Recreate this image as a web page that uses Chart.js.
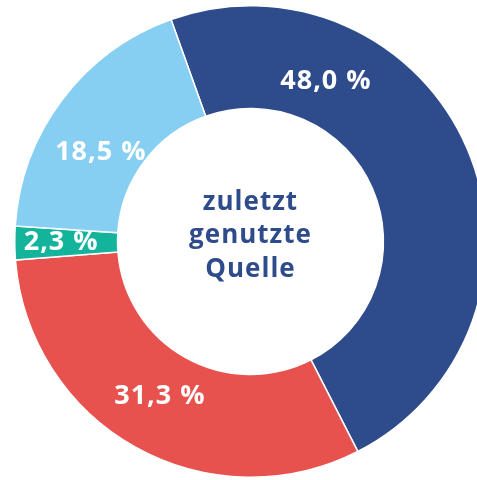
<!DOCTYPE html>
<html>
<head>
<meta charset="utf-8">
<script src="https://cdn.jsdelivr.net/npm/chart.js@4"></script>
<style>
  html, body { margin: 0; padding: 0; background: #fff; overflow: hidden; }
  #wrap { position: absolute; left: 0; top: 0; width: 501px; height: 483px; }
</style>
</head>
<body>
<div id="wrap"><canvas id="sourceChart" width="501" height="483"></canvas></div>
<script>
// data
const categories = ['Quelle A', 'Quelle B', 'Quelle C', 'Quelle D'];
const shares = [48.0, 31.3, 2.3, 18.5];
const sliceColors = ['#2e4b8c', '#e8524e', '#14b39b', '#86cff2'];
const centerLines = ['zuletzt', 'genutzte', 'Quelle'];
// where along each slice its label sits (0 = start, 1 = end) and radial nudge
const labelSpot = [0.26, 0.51, 0.5, 0.407];
const labelLift = [-7, -5, 5, -10];

const labelPlugin = {
    id: 'sliceLabels',
    afterDatasetsDraw(chart) {
        const ctx = chart.ctx;
        const meta = chart.getDatasetMeta(0);
        ctx.save();
        ctx.fillStyle = '#ffffff';
        ctx.font = 'bold 27px "Open Sans", sans-serif';
        ctx.letterSpacing = '1px';
        ctx.textAlign = 'center';
        ctx.textBaseline = 'middle';
        meta.data.forEach(function (arc, i) {
            const a = arc.startAngle + (arc.endAngle - arc.startAngle) * labelSpot[i];
            const r = (arc.innerRadius + arc.outerRadius) / 2 + labelLift[i];
            const txt = shares[i].toFixed(1).replace('.', ',') + ' %';
            ctx.fillText(txt, arc.x + Math.cos(a) * r, arc.y + Math.sin(a) * r);
        });
        // centre caption
        const c = meta.data[0];
        ctx.fillStyle = '#2e4b8c';
        ctx.font = 'bold 26px "Open Sans", sans-serif';
        centerLines.forEach(function (line, i) {
            ctx.fillText(line, c.x, c.y - 39 + i * 33.5);
        });
        ctx.restore();
    }
};

new Chart(document.getElementById('sourceChart'), {
    type: 'doughnut',
    data: {
        labels: categories,
        datasets: [{
            data: shares,
            backgroundColor: sliceColors,
            borderColor: '#ffffff',
            borderWidth: 1.5
        }]
    },
    options: {
        responsive: false,
        animation: false,
        cutout: '56.4%',
        rotation: -19.7,
        layout: { padding: 5 },
        plugins: {
            legend: { display: false },
            tooltip: { enabled: false }
        }
    },
    plugins: [labelPlugin]
});
</script>
</body>
</html>
